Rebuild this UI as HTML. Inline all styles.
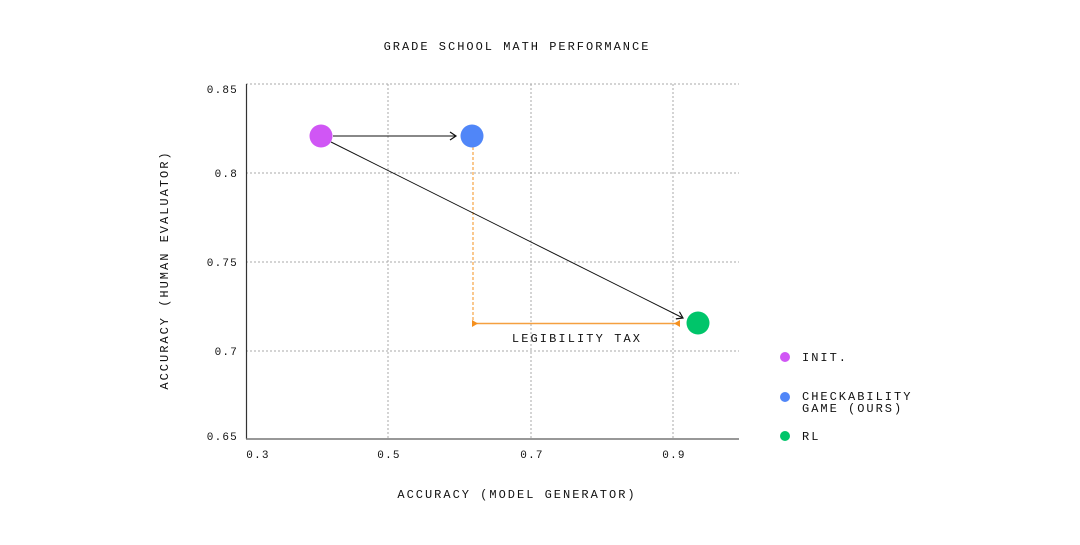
<!DOCTYPE html>
<html><head><style>
body{margin:0;background:#fff}
svg text{font-family:"Liberation Mono",monospace;fill:#111}
</style></head><body>
<svg width="1080" height="540" viewBox="0 0 1080 540" xmlns="http://www.w3.org/2000/svg">
<defs>
<marker id="ah" markerWidth="10" markerHeight="10" refX="8" refY="5" orient="auto" markerUnits="userSpaceOnUse"><path d="M2,1 L8,5 L2,9" fill="none" stroke="#111" stroke-width="1.2"/></marker>
</defs>
<text x="517" y="50" font-size="12" text-anchor="middle" letter-spacing="2">GRADE SCHOOL MATH PERFORMANCE</text>
<g stroke="#aaa" stroke-width="1" stroke-dasharray="2,2">
<line x1="246" y1="84" x2="739" y2="84"/>
<line x1="246" y1="173" x2="739" y2="173"/>
<line x1="246" y1="262" x2="739" y2="262"/>
<line x1="246" y1="351" x2="739" y2="351"/>
<line x1="388" y1="84" x2="388" y2="439"/>
<line x1="531" y1="84" x2="531" y2="439"/>
<line x1="673" y1="84" x2="673" y2="439"/>
</g>
<line x1="246.5" y1="84" x2="246.5" y2="439" stroke="#333" stroke-width="1.2"/>
<line x1="246" y1="439" x2="739" y2="439" stroke="#777" stroke-width="1.5"/>
<g font-size="11" text-anchor="end" letter-spacing="1.2">
<text x="238" y="93">0.85</text>
<text x="238" y="177">0.8</text>
<text x="238" y="266">0.75</text>
<text x="238" y="355">0.7</text>
<text x="238" y="440">0.65</text>
</g>
<g font-size="11" text-anchor="middle" letter-spacing="1.2">
<text x="258" y="458">0.3</text>
<text x="389" y="458">0.5</text>
<text x="532" y="458">0.7</text>
<text x="674" y="458">0.9</text>
</g>
<text x="517" y="498" font-size="12" text-anchor="middle" letter-spacing="2">ACCURACY (MODEL GENERATOR)</text>
<text transform="translate(168,270) rotate(-90)" font-size="12" text-anchor="middle" letter-spacing="2">ACCURACY (HUMAN EVALUATOR)</text>
<line x1="473" y1="147" x2="473" y2="323" stroke="#f5901e" stroke-width="1" stroke-dasharray="3,2"/>
<line x1="476" y1="323.5" x2="676" y2="323.5" stroke="#f5a040" stroke-width="1.5"/>
<path d="M472,320 L478,323.5 L472,327Z" fill="#f5901e"/>
<path d="M680,320 L674,323.5 L680,327Z" fill="#f5901e"/>
<line x1="333" y1="136" x2="456" y2="136" stroke="#111" stroke-width="1" marker-end="url(#ah)"/>
<line x1="331" y1="142" x2="683" y2="318" stroke="#111" stroke-width="1" marker-end="url(#ah)"/>
<text x="577" y="342" font-size="12" text-anchor="middle" letter-spacing="2.1">LEGIBILITY TAX</text>
<circle cx="321" cy="136" r="11.5" fill="#d056f5"/>
<circle cx="472" cy="136" r="11.5" fill="#5086f8"/>
<circle cx="698" cy="323" r="11.5" fill="#00c56a"/>
<circle cx="785" cy="357" r="5" fill="#d056f5"/>
<circle cx="785" cy="397" r="5" fill="#5086f8"/>
<circle cx="785" cy="436" r="5" fill="#00c56a"/>
<g font-size="12" letter-spacing="2">
<text x="802" y="361">INIT.</text>
<text x="802" y="400">CHECKABILITY</text>
<text x="802" y="412">GAME (OURS)</text>
<text x="802" y="440">RL</text>
</g>
</svg>
</body></html>
